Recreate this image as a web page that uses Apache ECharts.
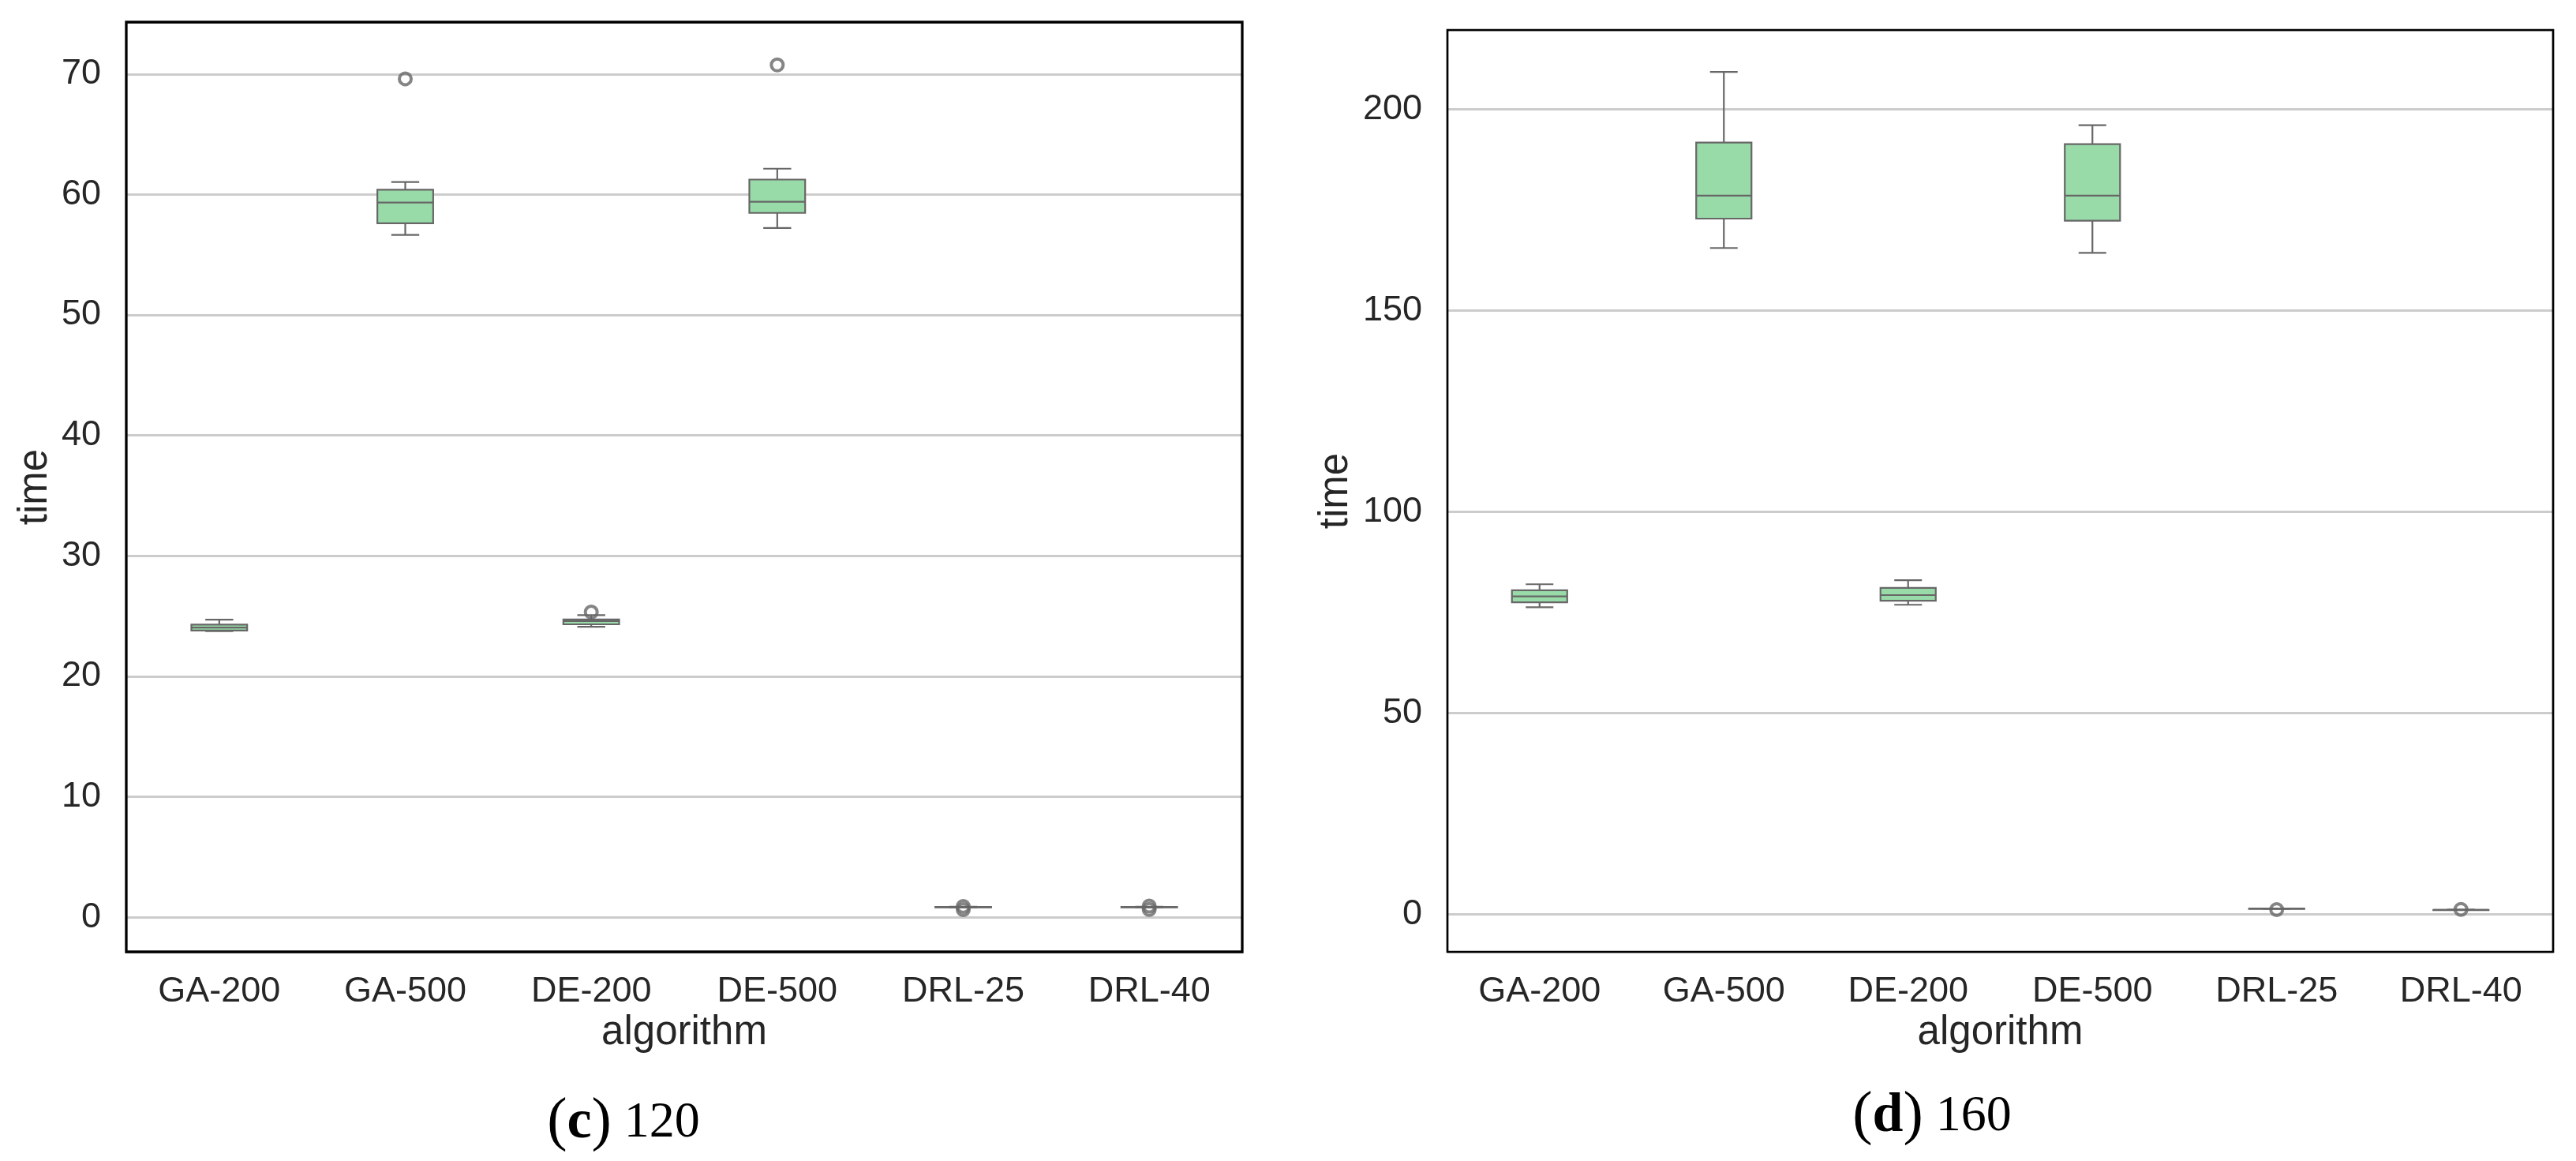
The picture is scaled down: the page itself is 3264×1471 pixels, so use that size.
<!DOCTYPE html>
<html><head><meta charset="utf-8">
<script src="https://cdn.jsdelivr.net/npm/echarts@6/dist/echarts.min.js"></script>
<style>html,body{margin:0;padding:0;background:#fff}#main{width:3264px;height:1471px}</style>
</head><body><div id="main"></div>
<script>
const categories = ['GA-200', 'GA-500', 'DE-200', 'DE-500', 'DRL-25', 'DRL-40'];
// each row: [lower whisker, Q1, median, Q3, upper whisker]
const boxesC = [
  [23.75, 23.80, 24.05, 24.30, 24.70],
  [56.65, 57.61, 59.33, 60.39, 61.03],
  [24.11, 24.32, 24.59, 24.72, 25.08],
  [57.22, 58.47, 59.39, 61.24, 62.14],
  [0.83, 0.84, 0.85, 0.86, 0.87],
  [0.82, 0.84, 0.85, 0.86, 0.87]
];
const outliersC = [[], [69.6], [25.33], [70.75], [0.64, 0.90], [0.65, 0.93]];
const boxesD = [
  [76.3, 77.5, 79.0, 80.5, 82.0],
  [165.5, 172.8, 178.5, 191.7, 209.25],
  [76.9, 77.9, 79.3, 81.1, 83.0],
  [164.3, 172.3, 178.5, 191.3, 196.0],
  [1.42, 1.44, 1.45, 1.46, 1.48],
  [1.10, 1.12, 1.13, 1.14, 1.16]
];
const outliersD = [[], [], [], [], [1.2], [1.25]];
const ticksC = [0, 10, 20, 30, 40, 50, 60, 70];
const ticksD = [0, 50, 100, 150, 200];
const rangeC = [-2.87, 74.31];
const rangeD = [-9.3, 219.65];
const captionC = ['c', '120'];
const captionD = ['d', '160'];

const LINE = '#676767';
const FILL = '#98dba8';
const TXT = '#262626';
const SANS = '"Liberation Sans", Arial, sans-serif';
const SERIF = '"Liberation Serif", serif';

function renderBox(params, api) {
  const x = api.value(0);
  const pMin = api.coord([x, api.value(1)]);
  const pQ1 = api.coord([x, api.value(2)]);
  const pMed = api.coord([x, api.value(3)]);
  const pQ3 = api.coord([x, api.value(4)]);
  const pMax = api.coord([x, api.value(5)]);
  const bw = api.size([1, 0])[0] * 0.3;
  const cx = pMed[0];
  const ls = { stroke: LINE, lineWidth: 2.2, fill: null };
  return {
    type: 'group',
    children: [
      { type: 'line', shape: { x1: cx, y1: pQ3[1], x2: cx, y2: pMax[1] }, style: ls },
      { type: 'line', shape: { x1: cx, y1: pQ1[1], x2: cx, y2: pMin[1] }, style: ls },
      { type: 'line', shape: { x1: cx - bw / 4, y1: pMax[1], x2: cx + bw / 4, y2: pMax[1] }, style: ls },
      { type: 'line', shape: { x1: cx - bw / 4, y1: pMin[1], x2: cx + bw / 4, y2: pMin[1] }, style: ls },
      { type: 'rect', shape: { x: cx - bw / 2, y: pQ3[1], width: bw, height: Math.max(pQ1[1] - pQ3[1], 0.5) },
        style: { fill: FILL, stroke: LINE, lineWidth: 2.2 } },
      { type: 'line', shape: { x1: cx - bw / 2, y1: pMed[1], x2: cx + bw / 2, y2: pMed[1] }, style: ls }
    ]
  };
}

function boxData(boxes) { return boxes.map((b, i) => [i].concat(b)); }
function outData(outs) { return outs.flatMap((arr, i) => arr.map(v => [i, v])); }

function xAxisDef(gi) {
  return {
    gridIndex: gi, type: 'category', data: categories, boundaryGap: true,
    axisLine: { show: false }, axisTick: { show: false }, splitLine: { show: false },
    axisLabel: { fontSize: 45, color: TXT, fontFamily: SANS, margin: 28, interval: 0 },
    name: 'algorithm', nameLocation: 'middle', nameGap: 76,
    nameTextStyle: { fontSize: 51, color: TXT, fontFamily: SANS }
  };
}
function yAxisDef(gi, range, ticks, split, gap) {
  return {
    gridIndex: gi, type: 'value', min: range[0], max: range[1], splitNumber: split,
    axisLine: { show: false }, axisTick: { show: false },
    splitLine: { show: true, lineStyle: { color: '#cccccc', width: 3 } },
    axisLabel: { fontSize: 45, color: TXT, fontFamily: SANS, margin: 32,
      showMinLabel: false, showMaxLabel: false,
      formatter: v => (ticks.indexOf(Math.round(v * 1000) / 1000) >= 0 ? String(Math.round(v)) : '') },
    name: 'time', nameLocation: 'middle', nameGap: gap,
    nameTextStyle: { fontSize: 51, color: TXT, fontFamily: SANS }
  };
}

function caption(parts) {
  return '{p|(}{b|' + parts[0] + '}{p|)}{n| ' + parts[1] + '}';
}
const captionRich = {
  p: { fontSize: 76, fontFamily: SERIF, fill: '#000' },
  b: { fontSize: 70, fontWeight: 'bold', fontFamily: SERIF, fill: '#000' },
  n: { fontSize: 64, fontFamily: SERIF, fill: '#000' }
};

const chart = echarts.init(document.getElementById('main'), null, { renderer: 'canvas' });
chart.setOption({
  backgroundColor: '#ffffff',
  animation: false,
  grid: [
    { left: 160, top: 28, width: 1414, height: 1178, show: true, borderColor: '#000', borderWidth: 3.3,
      backgroundColor: 'transparent', z: 10, containLabel: false, outerBoundsMode: 'none' },
    { left: 1834, top: 38, width: 1401, height: 1168, show: true, borderColor: '#000', borderWidth: 2.7,
      backgroundColor: 'transparent', z: 10, containLabel: false, outerBoundsMode: 'none' }
  ],
  xAxis: [xAxisDef(0), xAxisDef(1)],
  yAxis: [yAxisDef(0, rangeC, ticksC, 8, 90), yAxisDef(1, rangeD, ticksD, 5, 116)],
  series: [
    { type: 'custom', xAxisIndex: 0, yAxisIndex: 0, renderItem: renderBox, data: boxData(boxesC),
      encode: { x: 0, y: [1, 2, 3, 4, 5] }, z: 3 },
    { type: 'custom', xAxisIndex: 1, yAxisIndex: 1, renderItem: renderBox, data: boxData(boxesD),
      encode: { x: 0, y: [1, 2, 3, 4, 5] }, z: 3 },
    { type: 'scatter', xAxisIndex: 0, yAxisIndex: 0, data: outData(outliersC), symbol: 'circle', symbolSize: 15,
      itemStyle: { color: 'rgba(0,0,0,0)', borderColor: LINE, borderWidth: 4 }, z: 4 },
    { type: 'scatter', xAxisIndex: 1, yAxisIndex: 1, data: outData(outliersD), symbol: 'circle', symbolSize: 15,
      itemStyle: { color: 'rgba(0,0,0,0)', borderColor: LINE, borderWidth: 4 }, z: 4 }
  ],
  graphic: [
    { type: 'text', x: 790, y: 1423, z: 20,
      style: { text: caption(captionC), align: 'center', verticalAlign: 'middle', rich: captionRich } },
    { type: 'text', x: 2448, y: 1415, z: 20,
      style: { text: caption(captionD), align: 'center', verticalAlign: 'middle', rich: captionRich } }
  ]
});
</script>
</body></html>
